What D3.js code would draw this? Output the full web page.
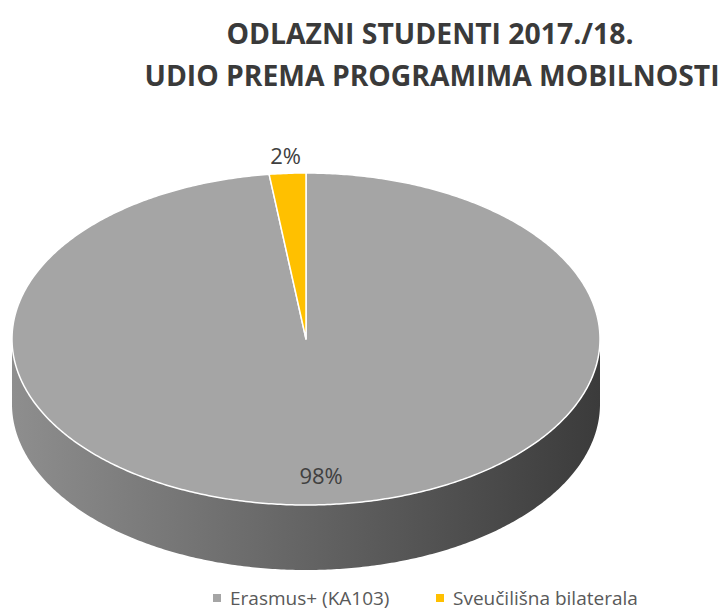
<!DOCTYPE html>
<html lang="hr">
<head>
<meta charset="UTF-8">
<title>Odlazni studenti 2017./18.</title>
<script src="https://d3js.org/d3.v7.min.js"></script>
<style>
  body { margin: 0; background: #fff; }
  text { font-family: "Open Sans", "DejaVu Sans", sans-serif; }
</style>
</head>
<body>
<div id="chart"></div>
<script>
// data
var categories = ["Erasmus+ (KA103)", "Sveučilišna bilaterala"]
var values = [98, 2]
var labels = ["98%", "2%"]
var colors = ["#a5a5a5", "#ffc000"]
var titleLines = ["ODLAZNI STUDENTI 2017./18.", "UDIO PREMA PROGRAMIMA MOBILNOSTI"]

var width = 725
var height = 612

var svg = d3.select("#chart").append("svg")
    .attr("width", width)
    .attr("height", height)

// pie geometry (tilted ellipse + side wall)
var cx = 306, cy = 339, rx = 294, ry = 166, depth = 65

var defs = svg.append("defs")
var grad = defs.append("linearGradient").attr("id", "sideGrad")
    .attr("x1", "0%").attr("x2", "100%").attr("y1", "0%").attr("y2", "0%")
grad.append("stop").attr("offset", "0%").attr("stop-color", "#8e8e8e")
grad.append("stop").attr("offset", "45%").attr("stop-color", "#686868")
grad.append("stop").attr("offset", "100%").attr("stop-color", "#3b3b3b")

var pie = d3.pie().sort(null).value(function(d) { return d.value })
var arcs = pie(categories.map(function(c, i) { return { name: c, value: values[i], label: labels[i], color: colors[i] } }))

function pt(a, r, dy) {
  return [cx + r * rx * Math.sin(a), cy - r * ry * Math.cos(a) + (dy || 0)]
}
function arcPoints(a0, a1, dy) {
  var n = Math.max(2, Math.ceil(Math.abs(a1 - a0) / 0.01))
  return d3.range(n + 1).map(function(k) { return pt(a0 + (a1 - a0) * k / n, 1, dy) })
}
var line = d3.line()

// side walls (only the front half, from 90deg to 270deg, is visible)
var g = svg.append("g")
arcs.forEach(function(d) {
  var a0 = Math.max(d.startAngle, Math.PI / 2)
  var a1 = Math.min(d.endAngle, Math.PI * 1.5)
  if (a1 <= a0) return
  var pts = arcPoints(a0, a1, 0).concat(arcPoints(a1, a0, depth))
  g.append("path")
    .attr("d", line(pts) + "Z")
    .attr("fill", d.data.color === colors[0] ? "url(#sideGrad)" : d3.color(d.data.color).darker(1))
})

// top surface
arcs.forEach(function(d) {
  var pts = [[cx, cy]].concat(arcPoints(d.startAngle, d.endAngle, 0))
  g.append("path")
    .attr("d", line(pts) + "Z")
    .attr("fill", d.data.color)
    .attr("stroke", "#fff")
    .attr("stroke-width", 1.5)
    .attr("stroke-linejoin", "round")
})

// data labels
arcs.forEach(function(d) {
  var mid = (d.startAngle + d.endAngle) / 2
  var small = (d.endAngle - d.startAngle) < 0.3
  var p = pt(mid, small ? 1.11 : 0.82, 0)
  svg.append("text")
    .attr("x", p[0]).attr("y", p[1])
    .attr("text-anchor", "middle")
    .attr("dominant-baseline", "central")
    .attr("font-size", 22)
    .attr("fill", "#404040")
    .text(d.data.label)
})

// title
var title = svg.append("g").attr("font-weight", 700).attr("fill", "#3a3a3a")
title.append("text").attr("x", 430).attr("y", 44)
  .attr("text-anchor", "middle").attr("font-size", 28)
  .attr("textLength", 407).attr("lengthAdjust", "spacingAndGlyphs")
  .text(titleLines[0])
title.append("text").attr("x", 432).attr("y", 86)
  .attr("text-anchor", "middle").attr("font-size", 28)
  .attr("textLength", 575).attr("lengthAdjust", "spacingAndGlyphs")
  .text(titleLines[1])

// legend
var legendX = [213, 436]
var legend = svg.append("g")
categories.forEach(function(c, i) {
  var lg = legend.append("g").attr("transform", "translate(" + legendX[i] + ",598)")
  lg.append("rect").attr("x", 0).attr("y", -4).attr("width", 8).attr("height", 8).attr("fill", colors[i])
  lg.append("text").attr("x", 17).attr("y", 0)
    .attr("dominant-baseline", "central")
    .attr("font-size", 19).attr("fill", "#595959")
    .text(c)
})
</script>
</body>
</html>
